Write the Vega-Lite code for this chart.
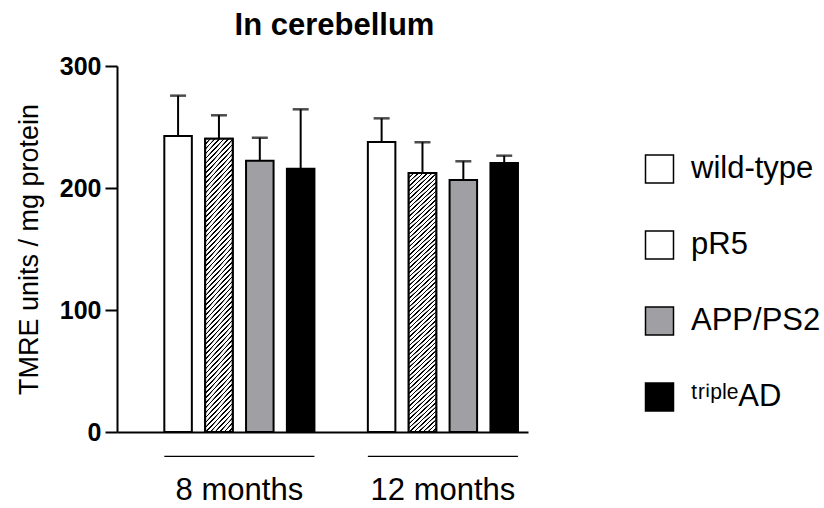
{
  "$schema": "https://vega.github.io/schema/vega-lite/v6.json",
  "width": 411,
  "height": 366,
  "autosize": "none",
  "padding": {"left": 117, "top": 66, "right": 296, "bottom": 76},
  "background": "white",
  "title": {"text": "In cerebellum", "font": "Liberation Sans", "fontSize": 31, "fontWeight": "bold", "color": "black", "anchor": "middle", "dx": 12, "offset": 12},
  "config": {
    "view": {"stroke": null},
    "axis": {"domainColor": "black", "tickColor": "black", "domainWidth": 2, "tickWidth": 2, "grid": false, "labelColor": "black", "titleColor": "black", "labelFont": "Liberation Sans", "titleFont": "Liberation Sans"}
  },
  "data": {"values": [
    {"month": "8 months", "genotype": "wild-type", "mean": 242.6, "upper": 275.7},
    {"month": "8 months", "genotype": "pR5", "mean": 240.4, "upper": 259.6},
    {"month": "8 months", "genotype": "APP/PS2", "mean": 222.4, "upper": 241.2},
    {"month": "8 months", "genotype": "tripleAD", "mean": 215.8, "upper": 264.5},
    {"month": "12 months", "genotype": "wild-type", "mean": 237.7, "upper": 257.1},
    {"month": "12 months", "genotype": "pR5", "mean": 212.3, "upper": 237.5},
    {"month": "12 months", "genotype": "APP/PS2", "mean": 206.6, "upper": 221.9},
    {"month": "12 months", "genotype": "tripleAD", "mean": 220.5, "upper": 226.5}
  ]},
  "encoding": {
    "x": {"field": "month", "type": "nominal", "sort": ["8 months", "12 months"],
      "scale": {"domain": ["8 months", "12 months"], "paddingInner": 0.2625, "paddingOuter": 0.1409, "align": 0.825},
      "axis": {"title": null, "ticks": false, "labelAngle": 0, "labelFontSize": 31, "labelPadding": 43, "labelFontWeight": "normal"}}
  },
  "layer": [
    {
      "mark": {"type": "bar", "stroke": "black", "strokeWidth": 2},
      "encoding": {
        "xOffset": {"field": "genotype", "type": "nominal", "scale": {"domain": ["wild-type", "pR5", "APP/PS2", "tripleAD"], "paddingInner": 0.3265, "paddingOuter": 0}},
        "y": {"field": "mean", "type": "quantitative", "scale": {"domain": [0, 300], "nice": false},
          "axis": {"values": [0, 100, 200, 300], "title": "TMRE units / mg protein", "titleFontSize": 27, "titleFontWeight": "normal", "titlePadding": 16, "labelFontSize": 25, "labelFontWeight": "bold", "tickSize": 12, "labelPadding": 4}},
        "fill": {"field": "genotype", "type": "nominal",
          "scale": {"domain": ["wild-type", "pR5", "APP/PS2", "tripleAD"], "range": ["white", "white", "#a0a0a4", "black"]},
          "legend": {"title": null, "orient": "none", "legendX": 527, "legendY": 87.5, "padding": 0,
            "symbolType": "square", "symbolSize": 784, "symbolStrokeColor": "black", "symbolStrokeWidth": 1.5,
            "labelFont": "Liberation Sans", "labelFontSize": 31, "labelColor": "black", "labelOffset": 16, "rowPadding": 41, "labelLimit": 300,
            "labelExpr": "datum.label === 'tripleAD' ? 'ᵗʳⁱᵖˡᵉAD' : datum.label"}}
      }
    },
    {
      "transform": [{"filter": "datum.genotype === 'pR5'"}],
      "mark": {"type": "bar", "stroke": "black", "strokeWidth": 2,
        "fill": {"gradient": "linear", "x1": 0, "y1": 0, "x2": 0.11, "y2": 1.1, "stops": [
          {"offset": 0, "color": "#000"}, {"offset": 0.004, "color": "#000"}, {"offset": 0.005, "color": "#fff"}, {"offset": 0.014, "color": "#fff"},
          {"offset": 0.015, "color": "#000"}, {"offset": 0.019, "color": "#000"}, {"offset": 0.02, "color": "#fff"}, {"offset": 0.029, "color": "#fff"},
          {"offset": 0.03, "color": "#000"}, {"offset": 0.034, "color": "#000"}, {"offset": 0.035, "color": "#fff"}, {"offset": 0.044, "color": "#fff"},
          {"offset": 0.045, "color": "#000"}, {"offset": 0.049, "color": "#000"}, {"offset": 0.05, "color": "#fff"}, {"offset": 0.059, "color": "#fff"},
          {"offset": 0.06, "color": "#000"}, {"offset": 0.064, "color": "#000"}, {"offset": 0.065, "color": "#fff"}, {"offset": 0.074, "color": "#fff"},
          {"offset": 0.075, "color": "#000"}, {"offset": 0.079, "color": "#000"}, {"offset": 0.08, "color": "#fff"}, {"offset": 0.089, "color": "#fff"},
          {"offset": 0.09, "color": "#000"}, {"offset": 0.094, "color": "#000"}, {"offset": 0.095, "color": "#fff"}, {"offset": 0.104, "color": "#fff"},
          {"offset": 0.105, "color": "#000"}, {"offset": 0.109, "color": "#000"}, {"offset": 0.11, "color": "#fff"}, {"offset": 0.119, "color": "#fff"},
          {"offset": 0.12, "color": "#000"}, {"offset": 0.124, "color": "#000"}, {"offset": 0.125, "color": "#fff"}, {"offset": 0.134, "color": "#fff"},
          {"offset": 0.135, "color": "#000"}, {"offset": 0.139, "color": "#000"}, {"offset": 0.14, "color": "#fff"}, {"offset": 0.149, "color": "#fff"},
          {"offset": 0.15, "color": "#000"}, {"offset": 0.154, "color": "#000"}, {"offset": 0.155, "color": "#fff"}, {"offset": 0.164, "color": "#fff"},
          {"offset": 0.165, "color": "#000"}, {"offset": 0.169, "color": "#000"}, {"offset": 0.17, "color": "#fff"}, {"offset": 0.179, "color": "#fff"},
          {"offset": 0.18, "color": "#000"}, {"offset": 0.184, "color": "#000"}, {"offset": 0.185, "color": "#fff"}, {"offset": 0.194, "color": "#fff"},
          {"offset": 0.195, "color": "#000"}, {"offset": 0.199, "color": "#000"}, {"offset": 0.2, "color": "#fff"}, {"offset": 0.209, "color": "#fff"},
          {"offset": 0.21, "color": "#000"}, {"offset": 0.214, "color": "#000"}, {"offset": 0.215, "color": "#fff"}, {"offset": 0.224, "color": "#fff"},
          {"offset": 0.225, "color": "#000"}, {"offset": 0.229, "color": "#000"}, {"offset": 0.23, "color": "#fff"}, {"offset": 0.239, "color": "#fff"},
          {"offset": 0.24, "color": "#000"}, {"offset": 0.244, "color": "#000"}, {"offset": 0.245, "color": "#fff"}, {"offset": 0.254, "color": "#fff"},
          {"offset": 0.255, "color": "#000"}, {"offset": 0.259, "color": "#000"}, {"offset": 0.26, "color": "#fff"}, {"offset": 0.269, "color": "#fff"},
          {"offset": 0.27, "color": "#000"}, {"offset": 0.274, "color": "#000"}, {"offset": 0.275, "color": "#fff"}, {"offset": 0.284, "color": "#fff"},
          {"offset": 0.285, "color": "#000"}, {"offset": 0.289, "color": "#000"}, {"offset": 0.29, "color": "#fff"}, {"offset": 0.299, "color": "#fff"},
          {"offset": 0.3, "color": "#000"}, {"offset": 0.304, "color": "#000"}, {"offset": 0.305, "color": "#fff"}, {"offset": 0.314, "color": "#fff"},
          {"offset": 0.315, "color": "#000"}, {"offset": 0.319, "color": "#000"}, {"offset": 0.32, "color": "#fff"}, {"offset": 0.329, "color": "#fff"},
          {"offset": 0.33, "color": "#000"}, {"offset": 0.334, "color": "#000"}, {"offset": 0.335, "color": "#fff"}, {"offset": 0.344, "color": "#fff"},
          {"offset": 0.345, "color": "#000"}, {"offset": 0.349, "color": "#000"}, {"offset": 0.35, "color": "#fff"}, {"offset": 0.359, "color": "#fff"},
          {"offset": 0.36, "color": "#000"}, {"offset": 0.364, "color": "#000"}, {"offset": 0.365, "color": "#fff"}, {"offset": 0.374, "color": "#fff"},
          {"offset": 0.375, "color": "#000"}, {"offset": 0.379, "color": "#000"}, {"offset": 0.38, "color": "#fff"}, {"offset": 0.389, "color": "#fff"},
          {"offset": 0.39, "color": "#000"}, {"offset": 0.394, "color": "#000"}, {"offset": 0.395, "color": "#fff"}, {"offset": 0.404, "color": "#fff"},
          {"offset": 0.405, "color": "#000"}, {"offset": 0.409, "color": "#000"}, {"offset": 0.41, "color": "#fff"}, {"offset": 0.419, "color": "#fff"},
          {"offset": 0.42, "color": "#000"}, {"offset": 0.424, "color": "#000"}, {"offset": 0.425, "color": "#fff"}, {"offset": 0.434, "color": "#fff"},
          {"offset": 0.435, "color": "#000"}, {"offset": 0.439, "color": "#000"}, {"offset": 0.44, "color": "#fff"}, {"offset": 0.449, "color": "#fff"},
          {"offset": 0.45, "color": "#000"}, {"offset": 0.454, "color": "#000"}, {"offset": 0.455, "color": "#fff"}, {"offset": 0.464, "color": "#fff"},
          {"offset": 0.465, "color": "#000"}, {"offset": 0.469, "color": "#000"}, {"offset": 0.47, "color": "#fff"}, {"offset": 0.479, "color": "#fff"},
          {"offset": 0.48, "color": "#000"}, {"offset": 0.484, "color": "#000"}, {"offset": 0.485, "color": "#fff"}, {"offset": 0.494, "color": "#fff"},
          {"offset": 0.495, "color": "#000"}, {"offset": 0.499, "color": "#000"}, {"offset": 0.5, "color": "#fff"}, {"offset": 0.509, "color": "#fff"},
          {"offset": 0.51, "color": "#000"}, {"offset": 0.514, "color": "#000"}, {"offset": 0.515, "color": "#fff"}, {"offset": 0.524, "color": "#fff"},
          {"offset": 0.525, "color": "#000"}, {"offset": 0.529, "color": "#000"}, {"offset": 0.53, "color": "#fff"}, {"offset": 0.539, "color": "#fff"},
          {"offset": 0.54, "color": "#000"}, {"offset": 0.544, "color": "#000"}, {"offset": 0.545, "color": "#fff"}, {"offset": 0.554, "color": "#fff"},
          {"offset": 0.555, "color": "#000"}, {"offset": 0.559, "color": "#000"}, {"offset": 0.56, "color": "#fff"}, {"offset": 0.569, "color": "#fff"},
          {"offset": 0.57, "color": "#000"}, {"offset": 0.574, "color": "#000"}, {"offset": 0.575, "color": "#fff"}, {"offset": 0.584, "color": "#fff"},
          {"offset": 0.585, "color": "#000"}, {"offset": 0.589, "color": "#000"}, {"offset": 0.59, "color": "#fff"}, {"offset": 0.599, "color": "#fff"},
          {"offset": 0.6, "color": "#000"}, {"offset": 0.604, "color": "#000"}, {"offset": 0.605, "color": "#fff"}, {"offset": 0.614, "color": "#fff"},
          {"offset": 0.615, "color": "#000"}, {"offset": 0.619, "color": "#000"}, {"offset": 0.62, "color": "#fff"}, {"offset": 0.629, "color": "#fff"},
          {"offset": 0.63, "color": "#000"}, {"offset": 0.634, "color": "#000"}, {"offset": 0.635, "color": "#fff"}, {"offset": 0.644, "color": "#fff"},
          {"offset": 0.645, "color": "#000"}, {"offset": 0.649, "color": "#000"}, {"offset": 0.65, "color": "#fff"}, {"offset": 0.659, "color": "#fff"},
          {"offset": 0.66, "color": "#000"}, {"offset": 0.664, "color": "#000"}, {"offset": 0.665, "color": "#fff"}, {"offset": 0.674, "color": "#fff"},
          {"offset": 0.675, "color": "#000"}, {"offset": 0.679, "color": "#000"}, {"offset": 0.68, "color": "#fff"}, {"offset": 0.689, "color": "#fff"},
          {"offset": 0.69, "color": "#000"}, {"offset": 0.694, "color": "#000"}, {"offset": 0.695, "color": "#fff"}, {"offset": 0.704, "color": "#fff"},
          {"offset": 0.705, "color": "#000"}, {"offset": 0.709, "color": "#000"}, {"offset": 0.71, "color": "#fff"}, {"offset": 0.719, "color": "#fff"},
          {"offset": 0.72, "color": "#000"}, {"offset": 0.724, "color": "#000"}, {"offset": 0.725, "color": "#fff"}, {"offset": 0.734, "color": "#fff"},
          {"offset": 0.735, "color": "#000"}, {"offset": 0.739, "color": "#000"}, {"offset": 0.74, "color": "#fff"}, {"offset": 0.749, "color": "#fff"},
          {"offset": 0.75, "color": "#000"}, {"offset": 0.754, "color": "#000"}, {"offset": 0.755, "color": "#fff"}, {"offset": 0.764, "color": "#fff"},
          {"offset": 0.765, "color": "#000"}, {"offset": 0.769, "color": "#000"}, {"offset": 0.77, "color": "#fff"}, {"offset": 0.779, "color": "#fff"},
          {"offset": 0.78, "color": "#000"}, {"offset": 0.784, "color": "#000"}, {"offset": 0.785, "color": "#fff"}, {"offset": 0.794, "color": "#fff"},
          {"offset": 0.795, "color": "#000"}, {"offset": 0.799, "color": "#000"}, {"offset": 0.8, "color": "#fff"}, {"offset": 0.809, "color": "#fff"},
          {"offset": 0.81, "color": "#000"}, {"offset": 0.814, "color": "#000"}, {"offset": 0.815, "color": "#fff"}, {"offset": 0.824, "color": "#fff"},
          {"offset": 0.825, "color": "#000"}, {"offset": 0.829, "color": "#000"}, {"offset": 0.83, "color": "#fff"}, {"offset": 0.839, "color": "#fff"},
          {"offset": 0.84, "color": "#000"}, {"offset": 0.844, "color": "#000"}, {"offset": 0.845, "color": "#fff"}, {"offset": 0.854, "color": "#fff"},
          {"offset": 0.855, "color": "#000"}, {"offset": 0.859, "color": "#000"}, {"offset": 0.86, "color": "#fff"}, {"offset": 0.869, "color": "#fff"},
          {"offset": 0.87, "color": "#000"}, {"offset": 0.874, "color": "#000"}, {"offset": 0.875, "color": "#fff"}, {"offset": 0.884, "color": "#fff"},
          {"offset": 0.885, "color": "#000"}, {"offset": 0.889, "color": "#000"}, {"offset": 0.89, "color": "#fff"}, {"offset": 0.899, "color": "#fff"},
          {"offset": 0.9, "color": "#000"}, {"offset": 0.904, "color": "#000"}, {"offset": 0.905, "color": "#fff"}, {"offset": 0.914, "color": "#fff"},
          {"offset": 0.915, "color": "#000"}, {"offset": 0.919, "color": "#000"}, {"offset": 0.92, "color": "#fff"}, {"offset": 0.929, "color": "#fff"},
          {"offset": 0.93, "color": "#000"}, {"offset": 0.934, "color": "#000"}, {"offset": 0.935, "color": "#fff"}, {"offset": 0.944, "color": "#fff"},
          {"offset": 0.945, "color": "#000"}, {"offset": 0.949, "color": "#000"}, {"offset": 0.95, "color": "#fff"}, {"offset": 0.959, "color": "#fff"},
          {"offset": 0.96, "color": "#000"}, {"offset": 0.964, "color": "#000"}, {"offset": 0.965, "color": "#fff"}, {"offset": 0.974, "color": "#fff"},
          {"offset": 0.975, "color": "#000"}, {"offset": 0.979, "color": "#000"}, {"offset": 0.98, "color": "#fff"}, {"offset": 0.989, "color": "#fff"},
          {"offset": 0.99, "color": "#000"}, {"offset": 0.994, "color": "#000"}, {"offset": 0.995, "color": "#fff"}, {"offset": 1, "color": "#fff"}
        ]}},
      "encoding": {
        "xOffset": {"field": "genotype", "type": "nominal"},
        "y": {"field": "mean", "type": "quantitative"}
      }
    },
    {
      "mark": {"type": "rule", "color": "black", "strokeWidth": 2},
      "encoding": {
        "xOffset": {"field": "genotype", "type": "nominal"},
        "y": {"field": "mean", "type": "quantitative"},
        "y2": {"field": "upper"}
      }
    },
    {
      "mark": {"type": "tick", "color": "black", "size": 16, "thickness": 2.5, "orient": "horizontal"},
      "encoding": {
        "xOffset": {"field": "genotype", "type": "nominal"},
        "y": {"field": "upper", "type": "quantitative"}
      }
    },
    {
      "transform": [{"aggregate": [{"op": "count", "as": "n"}], "groupby": ["month"]}],
      "mark": {"type": "bar", "color": "black"},
      "encoding": {
        "y": {"datum": -19.4},
        "y2": {"datum": -20.4}
      }
    }
  ]
}
